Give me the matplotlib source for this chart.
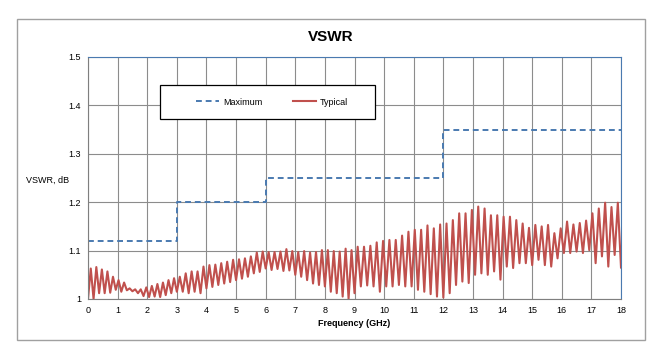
import numpy as np
import matplotlib.pyplot as plt
from matplotlib.patches import Rectangle

plt.rcParams['font.family'] = ['Liberation Sans', 'DejaVu Sans']

# Maximum spec (step limits)
max_freq = [0, 3, 3, 6, 6, 12, 12, 18]
max_vswr = [1.12, 1.12, 1.20, 1.20, 1.25, 1.25, 1.35, 1.35]

# Typical curve, read off the picture as alternating trough / peak values,
# one list per 3 GHz band
band_edges = [0, 3, 6, 9, 12, 15, 18]
typ_0_3 = [1.000, 1.063, 1.000, 1.066, 1.012, 1.061, 1.012, 1.057, 1.013, 1.046,
           1.019, 1.039, 1.015, 1.034, 1.018, 1.022, 1.016, 1.020, 1.012, 1.020,
           1.006, 1.024, 1.004, 1.027, 1.005, 1.031, 1.004, 1.034, 1.008, 1.039,
           1.012, 1.043]
typ_3_6 = [1.015, 1.046, 1.015, 1.053, 1.012, 1.057, 1.015, 1.057, 1.012, 1.067,
           1.022, 1.070, 1.025, 1.071, 1.029, 1.074, 1.032, 1.077, 1.035, 1.081,
           1.039, 1.082, 1.042, 1.084, 1.046, 1.088, 1.053, 1.096, 1.056, 1.098]
typ_6_9 = [1.063, 1.097, 1.060, 1.097, 1.062, 1.098, 1.058, 1.103, 1.059, 1.099,
           1.050, 1.097, 1.046, 1.099, 1.039, 1.096, 1.032, 1.097, 1.029, 1.101,
           1.026, 1.101, 1.015, 1.099, 1.012, 1.098, 1.005, 1.104, 1.000, 1.101]
typ_9_12 = [1.012, 1.108, 1.026, 1.108, 1.028, 1.110, 1.026, 1.117, 1.015, 1.120,
            1.026, 1.122, 1.026, 1.122, 1.029, 1.131, 1.026, 1.139, 1.026, 1.143,
            1.019, 1.143, 1.015, 1.152, 1.010, 1.146, 1.005, 1.154]
typ_12_15 = [1.003, 1.156, 1.012, 1.163, 1.029, 1.177, 1.036, 1.177, 1.033, 1.184,
             1.050, 1.191, 1.053, 1.187, 1.050, 1.173, 1.057, 1.173, 1.040, 1.170,
             1.067, 1.170, 1.064, 1.163, 1.074, 1.156, 1.074, 1.147]
typ_15_18 = [1.070, 1.153, 1.081, 1.150, 1.070, 1.153, 1.067, 1.136, 1.084, 1.146,
             1.095, 1.160, 1.095, 1.154, 1.098, 1.157, 1.095, 1.162, 1.101, 1.177,
             1.074, 1.187, 1.088, 1.199, 1.067, 1.190, 1.091, 1.199, 1.065]
typ_bands = [typ_0_3, typ_3_6, typ_6_9, typ_9_12, typ_12_15, typ_15_18]

typ_freq = []
typ_vswr = []
for i, band in enumerate(typ_bands):
    last = i == len(typ_bands) - 1
    f = np.linspace(band_edges[i], band_edges[i + 1], len(band), endpoint=last)
    typ_freq.extend(f)
    typ_vswr.extend(band)

fig = plt.figure(figsize=(6.62, 3.57), dpi=100)
fig.patches.append(Rectangle((17 / 662, 17 / 357), 628 / 662, 321 / 357,
                             transform=fig.transFigure, fill=False,
                             edgecolor='#a0a0a0', linewidth=1))

ax = fig.add_axes([88 / 662, 58 / 357, 533 / 662, 242 / 357])
ax.plot(max_freq, max_vswr, color='#4a7ab0', linestyle=(0, (3, 2)), linewidth=1.4,
        label='Maximum')
ax.plot(typ_freq, typ_vswr, color='#c0504d', linewidth=1.5, label='Typical')

ax.set_xlim(0, 18)
ax.set_ylim(1, 1.5)
ax.set_xticks(range(0, 19))
ax.set_yticks([1, 1.1, 1.2, 1.3, 1.4, 1.5])
ax.set_yticklabels(['1', '1.1', '1.2', '1.3', '1.4', '1.5'])
ax.grid(True, color='#8c8c8c', linewidth=0.8)
ax.set_axisbelow(True)
ax.tick_params(labelsize=6.5, length=0, pad=5)
for s in ['top', 'right']:
    ax.spines[s].set_color('#4a7ab0')
    ax.spines[s].set_linewidth(0.8)
for s in ['left', 'bottom']:
    ax.spines[s].set_color('#7f7f7f')
    ax.spines[s].set_linewidth(0.8)

ax.set_xlabel('Frequency (GHz)', fontsize=6.5, fontweight='bold', labelpad=3)
ax.text(-0.075, 0.49, 'VSWR, dB', transform=ax.transAxes, fontsize=6.5,
        ha='center', va='center')
fig.text(0.5, 0.895, 'VSWR', fontsize=11, fontweight='bold', ha='center', va='center')

# legend box drawn separately so its size matches the original
ax.add_patch(Rectangle((0.135, 0.744), 0.403, 0.14, transform=ax.transAxes,
                       facecolor='white', edgecolor='black', linewidth=0.9, zorder=5))
leg = ax.legend(loc='center', ncol=2, bbox_to_anchor=(0.345, 0.814),
                frameon=False, fontsize=6.5, handlelength=2.6, handletextpad=0.4,
                columnspacing=3.4)
leg.set_zorder(6)

fig.savefig('out.png', dpi=100)
